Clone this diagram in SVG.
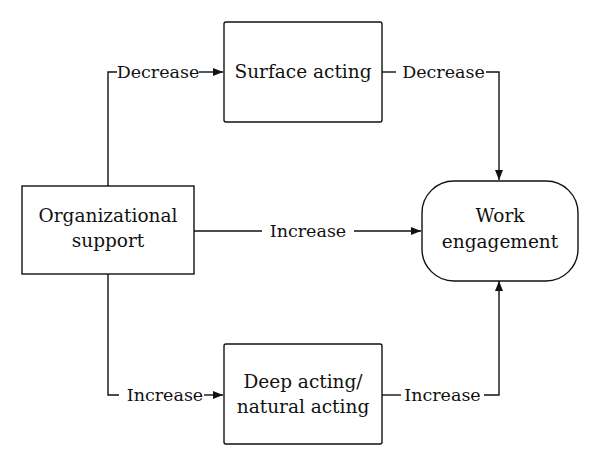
<svg xmlns="http://www.w3.org/2000/svg" width="600" height="467" viewBox="0 0 600 467">
<style>
.box{fill:#fff;stroke:#111;stroke-width:1.4}
.t{font-family:"DejaVu Serif","Liberation Serif",serif;font-size:18.5px;fill:#111;text-anchor:middle}
.l{font-family:"DejaVu Serif","Liberation Serif",serif;font-size:17.5px;fill:#111;text-anchor:middle}
.c{fill:none;stroke:#111;stroke-width:1.4}
</style>
<defs>
<marker id="ah" viewBox="0 0 10 8" refX="10" refY="4" markerWidth="11" markerHeight="8" markerUnits="userSpaceOnUse" orient="auto">
<path d="M0,0 L10,4 L0,8 Z" fill="#111"/>
</marker>
</defs>
<rect width="600" height="467" fill="#fff"/>
<g id="connectors">
<path class="c" d="M108,186 V72 H117"/>
<path class="c" d="M199,72 H223" marker-end="url(#ah)"/>
<text class="l" x="158" y="78">Decrease</text>
<path class="c" d="M382,72 H396"/>
<path class="c" d="M486,72 H499 V180" marker-end="url(#ah)"/>
<text class="l" x="443.5" y="78">Decrease</text>
<path class="c" d="M194,231 H262"/>
<path class="c" d="M354,231 H421" marker-end="url(#ah)"/>
<text class="l" x="308" y="237">Increase</text>
<path class="c" d="M108,274 V395 H119"/>
<path class="c" d="M204,395 H223" marker-end="url(#ah)"/>
<text class="l" x="165" y="401">Increase</text>
<path class="c" d="M382,395 H401"/>
<path class="c" d="M484,395 H499 V281" marker-end="url(#ah)"/>
<text class="l" x="442.5" y="401">Increase</text>
</g>
<g id="surface-acting">
<rect class="box" x="224" y="22" width="158" height="100" rx="2"/>
<text class="t" x="303" y="78">Surface acting</text>
</g>
<g id="organizational-support">
<rect class="box" x="22" y="186" width="172" height="88"/>
<text class="t" x="108" y="222">Organizational</text>
<text class="t" x="108" y="247">support</text>
</g>
<g id="work-engagement">
<rect class="box" x="422" y="181" width="156" height="100" rx="32"/>
<text class="t" x="500" y="222">Work</text>
<text class="t" x="500" y="248">engagement</text>
</g>
<g id="deep-acting">
<rect class="box" x="224" y="344" width="158" height="100" rx="2"/>
<text class="t" x="303" y="388">Deep acting/</text>
<text class="t" x="303" y="413">natural acting</text>
</g>
</svg>
